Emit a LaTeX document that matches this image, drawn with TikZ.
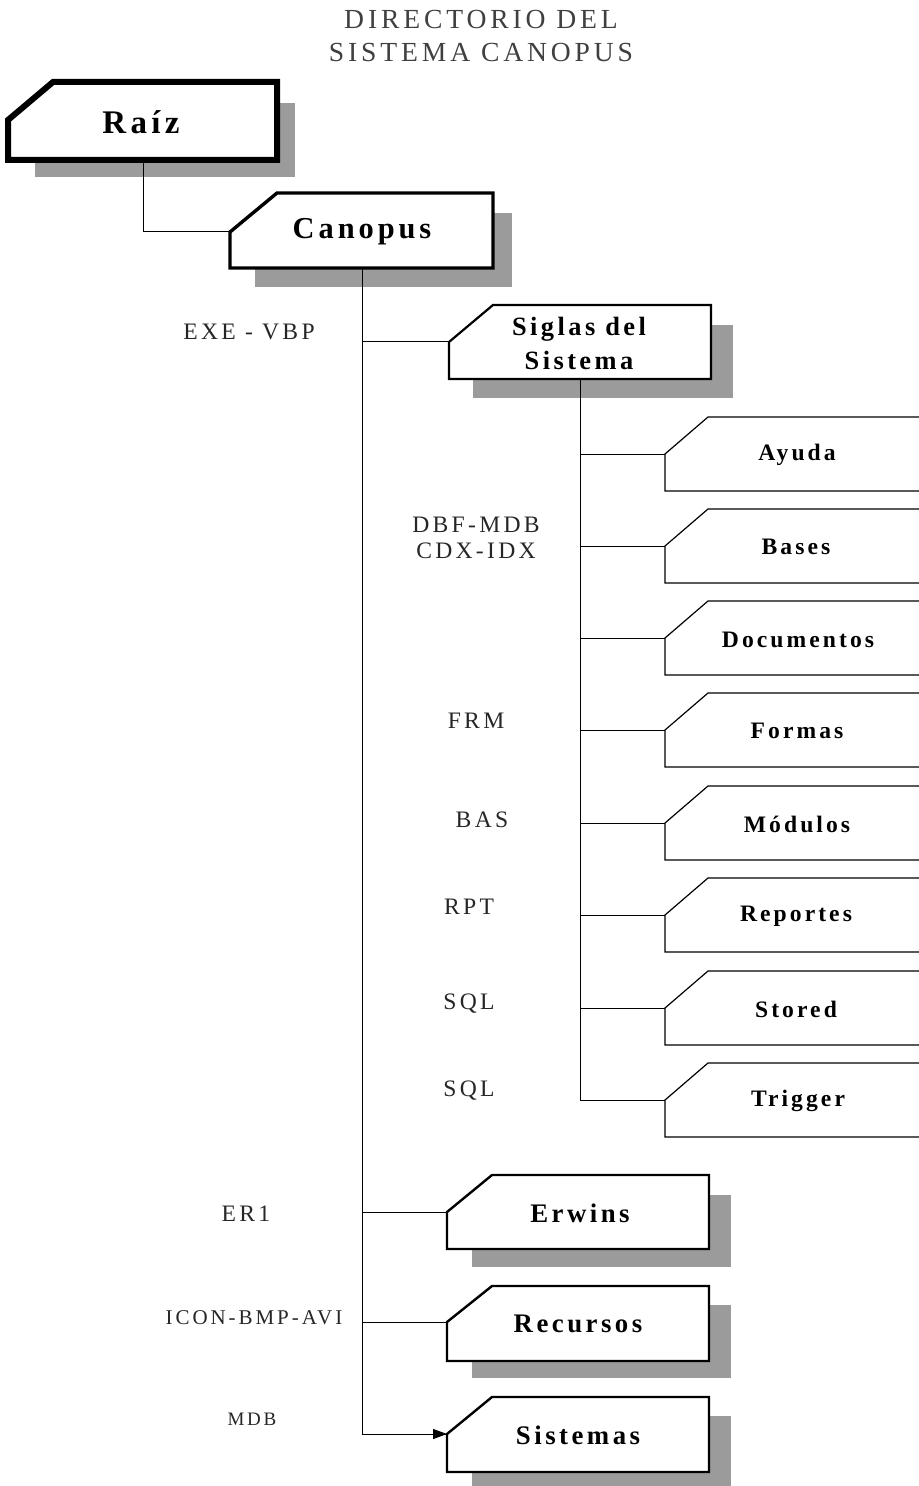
\documentclass[tikz,border=0pt]{standalone}
\usepackage{fontspec}
\setmainfont{Liberation Serif}
\newfontfamily\spaced[LetterSpace=14]{Liberation Serif}
\newfontfamily\spacedb[LetterSpace=13]{Liberation Serif Bold}
\usetikzlibrary{arrows.meta}
\definecolor{shade}{RGB}{155,155,155}
\tikzset{
  shadowbox/.style={fill=shade, draw=none},
  mainbox/.style={fill=white, draw=black, line join=miter},
  subbox/.style={draw=black, line width=0.6pt},
  conn/.style={draw=black, line width=0.5pt},
  lbl/.style={font=\spaced\fontsize{11.8}{13}\selectfont, text=black!85, inner sep=0pt},
  boxtxt/.style={font=\spacedb\fontsize{11}{13}\selectfont, inner sep=0pt, align=center},
  subtxt/.style={boxtxt, font=\spacedb\fontsize{11.8}{13}\selectfont},
}
% #1 name, #2 left, #3 top, #4 right, #5 bottom, #6 chamfer dx, #7 chamfer dy, #8 style
\newcommand{\chbox}[8]{%
  \draw[mainbox,#8] (#2,#3+#7) -- (#2+#6,#3) -- (#4,#3) -- (#4,#5) -- (#2,#5) -- cycle;
  \coordinate (#1-in) at (#2,#3+#7);
}
% open sub-box: #1 name, #2 corner y
\newcommand{\openbox}[2]{%
  \draw[subbox] (919,#2-37) -- (708,#2-37) -- (665,#2) -- (665,#2+37) -- (919,#2+37);
  \coordinate (#1-in) at (665,#2);
}
\begin{document}
\begin{tikzpicture}[x=0.5pt,y=-0.5pt]
\useasboundingbox (0,0) rectangle (919,1486);
% title
\node[lbl, font=\spaced\fontsize{13.8}{15}\selectfont, text=black!75] (t1) at (481,20) {DIRECTORIO DEL};
\node[lbl, font=\spaced\fontsize{13.8}{15}\selectfont, text=black!75] (t2) at (481,53) {SISTEMA CANOPUS};
% shadows
\fill[shadowbox] (35,103) rectangle (295,177);
\fill[shadowbox] (255,213) rectangle (512,287);
\fill[shadowbox] (473,325) rectangle (733,398);
\fill[shadowbox] (472,1195) rectangle (731,1267);
\fill[shadowbox] (472,1305) rectangle (731,1378);
\fill[shadowbox] (472,1416) rectangle (731,1486);
% main boxes
\chbox{raiz}{8}{82}{277}{160}{45}{38}{line width=3pt}
\chbox{can}{230}{193}{493}{268}{47}{39}{line width=1.7pt}
\chbox{sig}{449}{305}{711}{379}{44}{37}{line width=1.1pt}
\chbox{erw}{447}{1175}{709}{1249}{45}{37}{line width=1.2pt}
\chbox{rec}{447}{1286}{709}{1361}{45}{36}{line width=1.2pt}
\chbox{sis}{447}{1397}{709}{1472}{45}{37}{line width=1.2pt}
\coordinate (raiz-bot) at (143,160);
\coordinate (can-bot) at (362,268);
\coordinate (sig-bot) at (580,379);
% texts
\node[boxtxt, font=\spacedb\fontsize{16.5}{18}\selectfont] (traiz) at (141,122) {Raíz};
\node[boxtxt, font=\spacedb\fontsize{15.2}{17}\selectfont] (tcan) at (362,232) {Canopus};
\node[boxtxt, font=\spacedb\fontsize{13.2}{17}\selectfont] (tsig) at (579,343) {Siglas del\\Sistema};
\node[boxtxt, font=\spacedb\fontsize{13.4}{15}\selectfont] (terw) at (580,1213) {Erwins};
\node[boxtxt, font=\spacedb\fontsize{13.4}{15}\selectfont] (trec) at (578,1324) {Recursos};
\node[boxtxt, font=\spacedb\fontsize{13.4}{15}\selectfont] (tsis) at (578,1435) {Sistemas};
% sub boxes
\openbox{ayu}{454}
\openbox{bas}{546}
\openbox{doc}{638}
\openbox{for}{730}
\openbox{mod}{823}
\openbox{rep}{915}
\openbox{sto}{1008}
\openbox{tri}{1100}
\node[subtxt] (tayu) at (797,455) {Ayuda};
\node[subtxt] (tbas) at (796,547) {Bases};
\node[subtxt] (tdoc) at (798,640) {Documentos};
\node[subtxt] (tfor) at (797,731) {Formas};
\node[subtxt] (tmod) at (797,824) {Módulos};
\node[subtxt] (trep) at (796,916) {Reportes};
\node[subtxt] (tsto) at (796,1009) {Stored};
\node[subtxt] (ttri) at (798,1101) {Trigger};
% connectors
\draw[conn] (raiz-bot) |- (can-in);
\draw[conn] (can-bot) |- (sis-in);
\draw[conn, -{Triangle[length=7pt,width=5pt]}] (can-bot |- sis-in) -- (sis-in);
\draw[conn] (can-bot |- sig-in) -- (sig-in);
\draw[conn] (can-bot |- erw-in) -- (erw-in);
\draw[conn] (can-bot |- rec-in) -- (rec-in);
\draw[conn] (sig-bot) |- (tri-in);
\foreach \n in {ayu,bas,doc,for,mod,rep,sto}
  \draw[conn] (sig-bot |- \n-in) -- (\n-in);
% labels
\node[lbl] (l1) at (249,332) {EXE - VBP};
\node[lbl, align=center] (l2) at (476,538) {DBF-MDB\\CDX-IDX};
\node[lbl] (l3) at (476,721) {FRM};
\node[lbl] (l4) at (482,820) {BAS};
\node[lbl] (l5) at (469,907) {RPT};
\node[lbl] (l6) at (469,1004) {SQL};
\node[lbl] (l7) at (469,1091) {SQL};
\node[lbl] (l8) at (246,1214) {ER1};
\node[lbl, font=\spaced\fontsize{10.5}{12}\selectfont] (l9) at (254,1318) {ICON-BMP-AVI};
\node[lbl, font=\spaced\fontsize{9.5}{11}\selectfont] (l10) at (252,1419) {MDB};
\end{tikzpicture}
\end{document}
